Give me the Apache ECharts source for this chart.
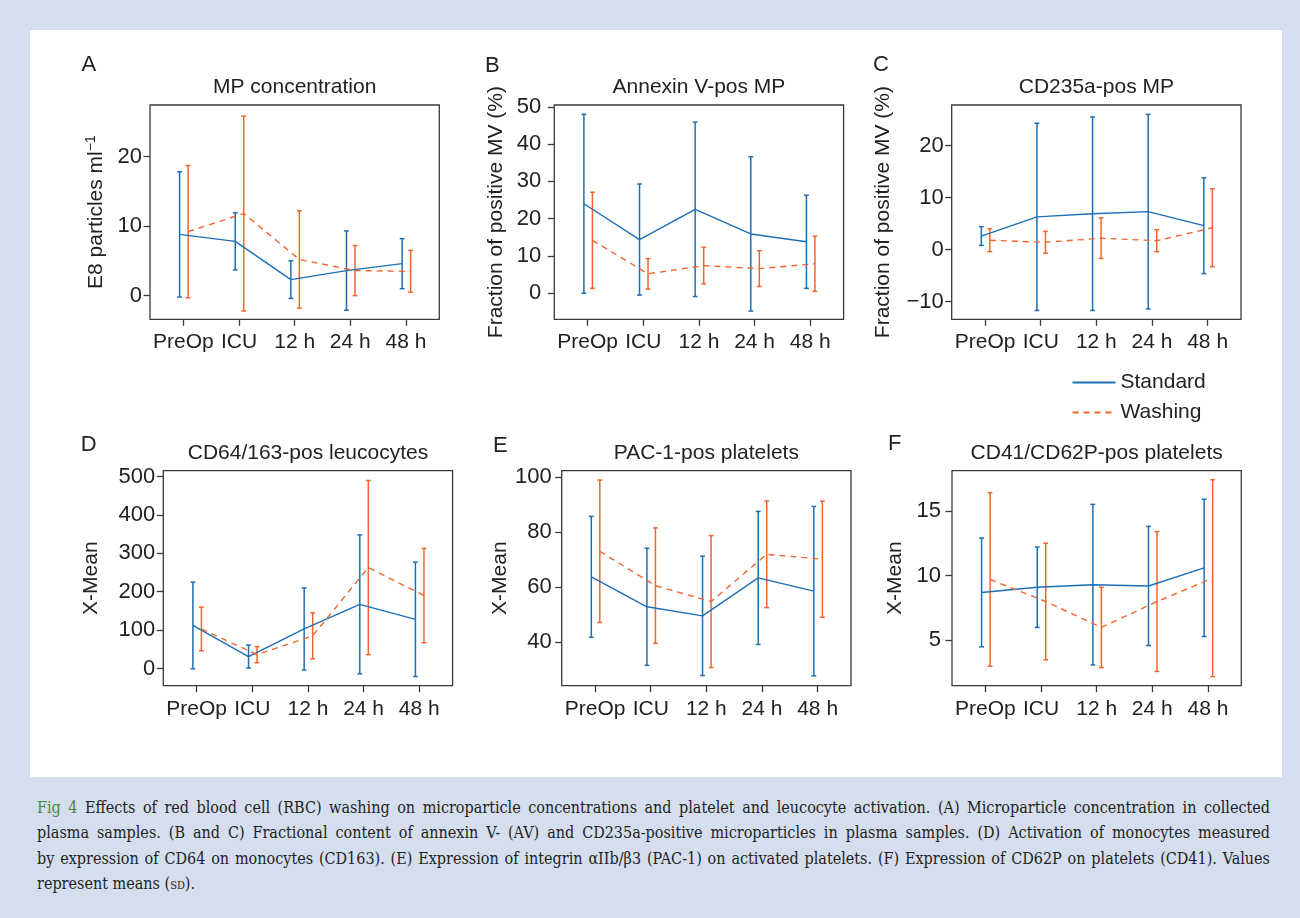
<!DOCTYPE html>
<html>
<head>
<meta charset="utf-8">
<script src="https://cdn.jsdelivr.net/npm/echarts@6/dist/echarts.min.js"></script>
<style>
  html, body { margin: 0; padding: 0; }
  body { width: 1300px; height: 918px; background: #d4deef; position: relative; overflow: hidden; }
  .panel { position: absolute; left: 30px; top: 30px; width: 1252px; height: 747px; background: #fff; }
  #chart { position: absolute; left: 0; top: 0; width: 1300px; height: 780px; }
  #caption {
    position: absolute; left: 37px; top: 795px; width: 1233px;
    font-family: "DejaVu Serif Condensed", "DejaVu Serif", serif;
    font-size: 16px; line-height: 25.3px; color: #231f20;
  }
  #caption .ln { white-space: nowrap; }
  #caption .fig { color: #4a8a3c; }
  #caption .sc { font-variant: small-caps; }
</style>
</head>
<body>
<div class="panel"></div>
<div id="chart"></div>
<div id="caption">
  <div class="ln"><span class="fig">Fig 4</span> Effects of red blood cell (RBC) washing on microparticle concentrations and platelet and leucocyte activation. (A) Microparticle concentration in collected</div>
  <div class="ln">plasma samples. (B and C) Fractional content of annexin V- (AV) and CD235a-positive microparticles in plasma samples. (D) Activation of monocytes measured</div>
  <div class="ln">by expression of CD64 on monocytes (CD163). (E) Expression of integrin αIIb/β3 (PAC-1) on activated platelets. (F) Expression of CD62P on platelets (CD41). Values</div>
  <div class="ln last">represent means (<span class="sc">sd</span>).</div>
</div>
<script>
// 时间点
const categories = ['PreOp', 'ICU', '12 h', '24 h', '48 h'];
const xTicks = [1, 2, 3, 4, 5];

// A: MP concentration
const mpStdMean = [8.8, 7.8, 2.3, 3.6, 4.6];
const mpStdSd = [9.0, 4.1, 2.7, 5.7, 3.6];
const mpWashMean = [9.2, 11.8, 5.2, 3.6, 3.5];
const mpWashSd = [9.5, 14.0, 7.0, 3.6, 3.0];
const mpTicks = [0, 10, 20];

// B: Annexin V-pos MP
const avStdMean = [24.0, 14.4, 22.5, 15.9, 13.8];
const avStdSd = [24.0, 14.9, 23.4, 20.7, 12.5];
const avWashMean = [14.2, 5.2, 7.4, 6.6, 7.9];
const avWashSd = [12.9, 4.1, 4.9, 4.8, 7.4];
const avTicks = [0, 10, 20, 30, 40, 50];

// C: CD235a-pos MP
const cdStdMean = [2.6, 6.3, 6.9, 7.3, 4.6];
const cdStdSd = [1.8, 18.0, 18.6, 18.7, 9.2];
const cdWashMean = [1.8, 1.4, 2.2, 1.7, 4.2];
const cdWashSd = [2.2, 2.1, 3.9, 2.1, 7.5];
const cdTicks = [-10, 0, 10, 20];

// D: CD64/163-pos leucocytes
const leuStdMean = [112, 31, 103, 167, 128];
const leuStdSd = [113, 30, 107, 181, 149];
const leuWashMean = [103, 36, 85, 263, 190];
const leuWashSd = [57, 21, 60, 227, 123];
const leuTicks = [0, 100, 200, 300, 400, 500];

// E: PAC-1-pos platelets
const pacStdMean = [63.8, 52.9, 49.6, 63.4, 58.6];
const pacStdSd = [22.0, 21.3, 21.7, 24.2, 30.8];
const pacWashMean = [73.1, 60.6, 54.8, 72.0, 70.2];
const pacWashSd = [25.9, 21.0, 24.0, 19.4, 21.1];
const pacTicks = [40, 60, 80, 100];

// F: CD41/CD62P-pos platelets
const cd62StdMean = [8.7, 9.1, 9.3, 9.2, 10.6];
const cd62StdSd = [4.2, 3.1, 6.2, 4.6, 5.3];
const cd62WashMean = [9.7, 8.0, 6.0, 8.0, 9.8];
const cd62WashSd = [6.7, 4.5, 3.1, 5.4, 7.6];
const cd62Ticks = [5, 10, 15];

const BLUE = '#1c6fb7';
const ORANGE = '#f2652c';
const FRAME = '#3a3a3a';
const TEXT = '#222';
const FONT = '"Liberation Sans", Arial, sans-serif';
const STD_OFF = -0.068;
const WASH_OFF = 0.085;

const panels = [
  { letter: 'A', title: 'MP concentration', yName: 'E8 particles ml{sup|\u22121}',
    std: [mpStdMean, mpStdSd], wash: [mpWashMean, mpWashSd], ticks: mpTicks,
    yMin: -3.4, yMax: 27.4, box: [150, 105, 289.3, 214.3], nameGap: 42, labelGap: 8, xGap: 12, letterPos: [81.5, 65] },
  { letter: 'B', title: 'Annexin V-pos MP', yName: 'Fraction of positive MV (%)',
    std: [avStdMean, avStdSd], wash: [avWashMean, avWashSd], ticks: avTicks,
    yMin: -7.0, yMax: 50.5, box: [554.3, 105, 289.3, 214.3], nameGap: 48, labelGap: 13, xGap: 12, letterPos: [485, 66] },
  { letter: 'C', title: 'CD235a-pos MP', yName: 'Fraction of positive MV (%)',
    std: [cdStdMean, cdStdSd], wash: [cdWashMean, cdWashSd], ticks: cdTicks,
    yMin: -13.4, yMax: 27.8, box: [951.7, 105, 289.3, 214.3], nameGap: 58, labelGap: 8, xGap: 12, letterPos: [873, 64.5] },
  { letter: 'D', title: 'CD64/163-pos leucocytes', yName: 'X-Mean',
    std: [leuStdMean, leuStdSd], wash: [leuWashMean, leuWashSd], ticks: leuTicks,
    yMin: -45, yMax: 515.5, box: [163.3, 470.7, 289.3, 215], nameGap: 62, labelGap: 8, xGap: 13, letterPos: [80.7, 444.5] },
  { letter: 'E', title: 'PAC-1-pos platelets', yName: 'X-Mean',
    std: [pacStdMean, pacStdSd], wash: [pacWashMean, pacWashSd], ticks: pacTicks,
    yMin: 24.2, yMax: 102.4, box: [561.7, 470.7, 289.3, 215], nameGap: 51, labelGap: 10, xGap: 13, letterPos: [493, 445.5] },
  { letter: 'F', title: 'CD41/CD62P-pos platelets', yName: 'X-Mean',
    std: [cd62StdMean, cd62StdSd], wash: [cd62WashMean, cd62WashSd], ticks: cd62Ticks,
    yMin: 1.5, yMax: 18.1, box: [952, 470.7, 289.3, 215], nameGap: 46, labelGap: 11, xGap: 13, letterPos: [888, 443.5] }
];

// 误差棒
function errorBar(color) {
  return function (params, api) {
    const x = api.value(0);
    const lo = api.coord([x, api.value(1)]);
    const hi = api.coord([x, api.value(2)]);
    const cap = 2.4;
    const style = { stroke: color, lineWidth: 1.5 };
    return {
      type: 'group',
      children: [
        { type: 'line', shape: { x1: lo[0], y1: lo[1], x2: hi[0], y2: hi[1] }, style: style },
        { type: 'line', shape: { x1: lo[0] - cap, y1: lo[1], x2: lo[0] + cap, y2: lo[1] }, style: style },
        { type: 'line', shape: { x1: hi[0] - cap, y1: hi[1], x2: hi[0] + cap, y2: hi[1] }, style: style }
      ]
    };
  };
}

const minus = v => (v < 0 ? '\u2212' + Math.abs(v) : String(v));

const grid = [], xAxis = [], yAxis = [], series = [], title = [];

panels.forEach((p, i) => {
  const [l, t, w, h] = p.box;
  grid.push({ left: l, top: t, width: w, height: h, show: true, borderColor: FRAME, borderWidth: 1.3, backgroundColor: 'transparent' });

  xAxis.push({
    type: 'value', gridIndex: i, min: 0.4, max: 5.6,
    axisLine: { show: false, onZero: false },
    splitLine: { show: false },
    axisTick: { show: true, customValues: xTicks, length: 6.5, lineStyle: { color: FRAME, width: 1.3 } },
    axisLabel: { customValues: xTicks, formatter: v => categories[Math.round(v) - 1], margin: p.xGap, fontSize: 21, color: TEXT, fontFamily: FONT }
  });

  yAxis.push({
    type: 'value', gridIndex: i, min: p.yMin, max: p.yMax,
    name: p.yName, nameLocation: 'middle', nameGap: p.nameGap,
    nameTextStyle: { fontSize: 21, color: TEXT, fontFamily: FONT,
      rich: { sup: { fontSize: 14, color: TEXT, fontFamily: FONT, verticalAlign: 'top', padding: [0, 0, 10, 0] } } },
    axisLine: { show: false, onZero: false },
    splitLine: { show: false },
    axisTick: { show: true, customValues: p.ticks, length: 6.5, lineStyle: { color: FRAME, width: 1.3 } },
    axisLabel: { customValues: p.ticks, formatter: minus, margin: p.labelGap, fontSize: 22, color: TEXT, fontFamily: FONT }
  });

  title.push({ text: p.title, left: l + w / 2, top: t - 17.5, padding: 0, textAlign: 'center', textVerticalAlign: 'middle',
    textStyle: { fontSize: 21, fontWeight: 'normal', color: TEXT, fontFamily: FONT } });
  title.push({ text: p.letter, left: p.letterPos[0], top: p.letterPos[1], padding: 0, textAlign: 'left', textVerticalAlign: 'middle',
    textStyle: { fontSize: 22, fontWeight: 'normal', color: TEXT, fontFamily: FONT } });

  const [sm, ss] = p.std;
  const [wm, ws] = p.wash;

  series.push({
    type: 'custom', xAxisIndex: i, yAxisIndex: i, z: 2,
    renderItem: errorBar(BLUE), encode: { x: 0, y: [1, 2] },
    data: sm.map((m, k) => [k + 1 + STD_OFF, m - ss[k], m + ss[k]])
  });
  series.push({
    type: 'custom', xAxisIndex: i, yAxisIndex: i, z: 2,
    renderItem: errorBar(ORANGE), encode: { x: 0, y: [1, 2] },
    data: wm.map((m, k) => [k + 1 + WASH_OFF, m - ws[k], m + ws[k]])
  });
  series.push({
    name: 'Standard', type: 'line', xAxisIndex: i, yAxisIndex: i, z: 3,
    symbol: 'none', showSymbol: false,
    lineStyle: { color: BLUE, width: 1.4 }, itemStyle: { color: BLUE },
    data: sm.map((m, k) => [k + 1 + STD_OFF, m])
  });
  series.push({
    name: 'Washing', type: 'line', xAxisIndex: i, yAxisIndex: i, z: 3,
    symbol: 'none', showSymbol: false,
    lineStyle: { color: ORANGE, width: 1.4, type: [6, 5] }, itemStyle: { color: ORANGE },
    data: wm.map((m, k) => [k + 1 + WASH_OFF, m])
  });
});

const chart = echarts.init(document.getElementById('chart'), null, { renderer: 'canvas' });
chart.setOption({
  animation: false,
  backgroundColor: 'transparent',
  title: title,
  legend: {
    data: ['Standard', 'Washing'],
    orient: 'vertical', left: 1071.5, top: 372, padding: 0,
    itemWidth: 43, itemHeight: 21, itemGap: 9,
    selectedMode: false,
    itemStyle: { opacity: 0 },
    textStyle: { fontSize: 21, color: TEXT, fontFamily: FONT }
  },
  grid: grid,
  xAxis: xAxis,
  yAxis: yAxis,
  series: series
});

// 图注两端对齐
document.querySelectorAll('#caption .ln').forEach(el => {
  if (el.classList.contains('last')) return;
  el.style.display = 'inline-block';
  const natural = el.getBoundingClientRect().width;
  el.style.display = 'block';
  const spaces = (el.textContent.match(/ /g) || []).length;
  el.style.wordSpacing = ((1233 - natural) / spaces) + 'px';
});
</script>
</body>
</html>
